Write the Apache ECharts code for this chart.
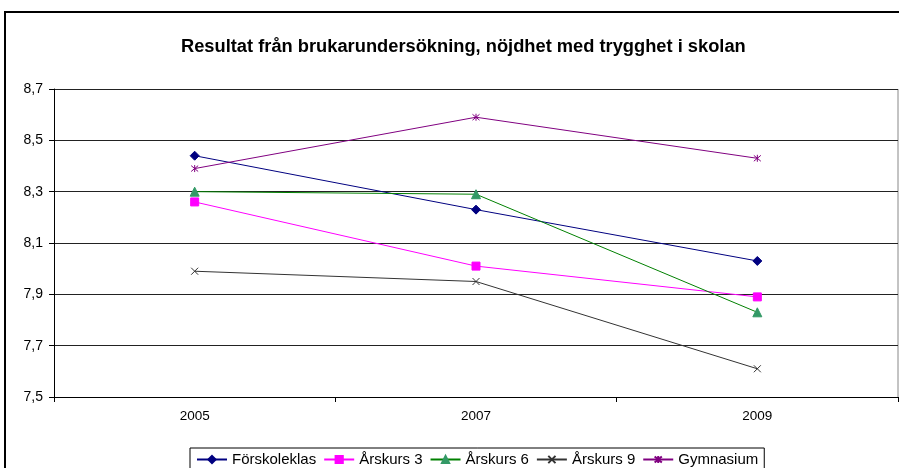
<!DOCTYPE html>
<html>
<head>
<meta charset="utf-8">
<script src="https://cdn.jsdelivr.net/npm/echarts@6/dist/echarts.min.js"></script>
<style>
  html, body { margin: 0; padding: 0; background: #fff; }
  #main { width: 899px; height: 468px; }
</style>
</head>
<body>
<div id="main"></div>
<script>
// data
var years = ['2005', '2007', '2009'];
var forskoleklas = [8.44, 8.23, 8.03];
var arskurs3 = [8.26, 8.01, 7.89];
var arskurs6 = [8.30, 8.29, 7.83];
var arskurs9 = [7.99, 7.95, 7.61];
var gymnasium = [8.39, 8.59, 8.43];

var crossPath = 'path://M0,0L10,10M10,0L0,10';
var starPath = 'path://M0,0L10,10M10,0L0,10M5,-1L5,11';

var myChart = echarts.init(document.getElementById('main'));

function serie(name, data, color, symbol, symColor, size) {
    return {
        name: name,
        type: 'line',
        data: data,
        symbol: symbol,
        symbolSize: size,
        lineStyle: { color: color, width: 1 },
        itemStyle: { color: symColor, borderColor: symColor, borderWidth: 1 },
        emphasis: { disabled: true },
        animation: false
    };
}

var option = {
    animation: false,
    textStyle: { fontFamily: 'Liberation Sans, Arial, sans-serif' },
    title: {
        text: 'Resultat från brukarundersökning, nöjdhet med trygghet i skolan',
        left: 176,
        top: 33,
        textStyle: { fontSize: 18.3, fontWeight: 'bold', color: '#000' }
    },
    graphic: [{
        type: 'rect',
        shape: { x: 5, y: 12, width: 920, height: 480 },
        style: { fill: 'none', stroke: '#000', lineWidth: 2 },
        silent: true
    }, {
        type: 'line',
        shape: { x1: 898, y1: 89, x2: 898, y2: 397 },
        style: { stroke: '#888', lineWidth: 1 },
        silent: true
    }],
    legend: {
        bottom: -3,
        left: 190,
        itemWidth: 30,
        itemHeight: 9,
        itemGap: 7,
        padding: [4, 6, 4, 6],
        borderColor: '#000',
        borderWidth: 1,
        textStyle: { fontSize: 15, color: '#000' },
        data: ['Förskoleklas', 'Årskurs 3', 'Årskurs 6', 'Årskurs 9', 'Gymnasium']
    },
    grid: { left: 54, right: 1, top: 89, bottom: 71 },
    xAxis: {
        type: 'category',
        data: years,
        boundaryGap: true,
        axisLine: { lineStyle: { color: '#000', width: 1 } },
        axisTick: { show: true, length: 5, lineStyle: { color: '#000' } },
        axisLabel: { color: '#000', fontSize: 13.5, margin: 12 }
    },
    yAxis: {
        type: 'value',
        min: 7.5,
        max: 8.7,
        interval: 0.2,
        axisLine: { show: true, lineStyle: { color: '#000' } },
        axisTick: { show: true, length: 5, lineStyle: { color: '#000' } },
        axisLabel: {
            color: '#000', fontSize: 14, margin: 11,
            formatter: function (v) { return v.toFixed(1).replace('.', ','); }
        },
        splitLine: { show: true, lineStyle: { color: '#222', width: 1 } }
    },
    series: [
        serie('Förskoleklas', forskoleklas, '#000080', 'diamond', '#000080', 9),
        serie('Årskurs 3', arskurs3, '#ff00ff', 'rect', '#ff00ff', 8),
        serie('Årskurs 6', arskurs6, '#008000', 'triangle', '#339966', 9),
        serie('Årskurs 9', arskurs9, '#333333', crossPath, '#333333', 7),
        serie('Gymnasium', gymnasium, '#800080', starPath, '#800080', 7)
    ]
};

myChart.setOption(option);
</script>
</body>
</html>
